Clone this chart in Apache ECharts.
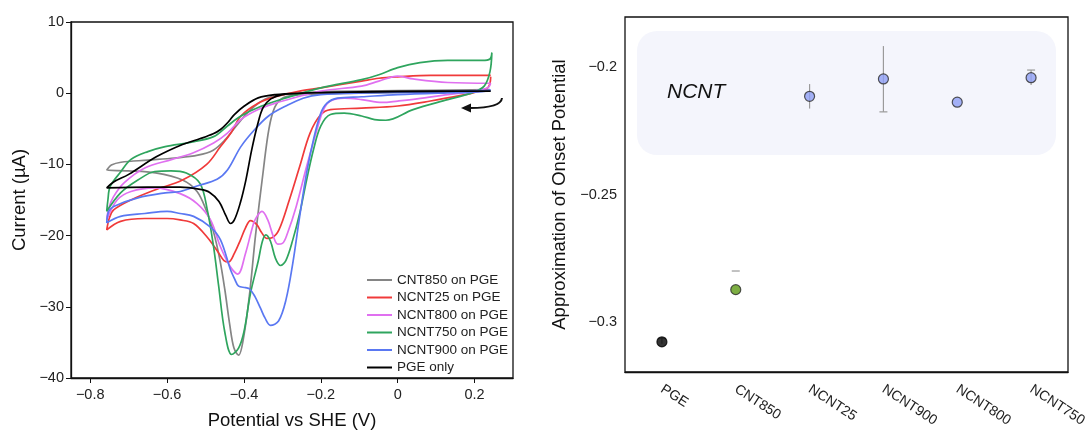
<!DOCTYPE html>
<html>
<head>
<meta charset="utf-8">
<script src="https://cdn.jsdelivr.net/npm/echarts@6/dist/echarts.min.js"></script>
<style>
  html, body { margin: 0; background: #fff; }
  #chart { width: 1085px; height: 432px; }
</style>
</head>
<body>
<div id="chart"></div>
<script>
// --- CV curves: [potential V, current uA], cathodic sweep then anodic sweep
const cnt850 = [
  [0.24, 0.3], [0.1, 0.15], [0, 0.1], [-0.1, 0], [-0.2, -0.1], [-0.27, -0.3], [-0.3, -0.7],
  [-0.32, -2], [-0.335, -5], [-0.35, -11], [-0.37, -20], [-0.385, -28], [-0.4, -34],
  [-0.414, -36.8], [-0.426, -35.8], [-0.437, -32.5], [-0.45, -27.5], [-0.463, -23.3],
  [-0.48, -19.3], [-0.497, -16.6], [-0.522, -13.8], [-0.56, -12.2], [-0.63, -11.2],
  [-0.7, -10.9], [-0.757, -10.8],
  [-0.745, -10.1], [-0.72, -9.7], [-0.65, -9.4], [-0.58, -9.1], [-0.52, -8.7], [-0.48, -8],
  [-0.45, -6.6], [-0.42, -4.6], [-0.39, -2.7], [-0.36, -1.3], [-0.33, -0.5], [-0.28, -0.1],
  [-0.2, 0.2], [0, 0.35], [0.24, 0.5]
];
const ncnt25 = [
  [0.242, 2.3], [0.235, 0.8], [0.2, 0.1], [0.175, -0.2], [0.085, -1.1], [0, -1.8],
  [-0.094, -2.1], [-0.175, -2.3], [-0.2, -3.0], [-0.228, -5.6], [-0.255, -10.3],
  [-0.282, -15], [-0.309, -19.2], [-0.327, -20.3], [-0.34, -20.4], [-0.355, -19.5],
  [-0.366, -18.5], [-0.383, -17.9], [-0.396, -18.9], [-0.409, -20.6], [-0.425, -22.5],
  [-0.44, -23.7], [-0.452, -23.5], [-0.465, -22.5], [-0.496, -20.2], [-0.531, -18.3],
  [-0.566, -17.8], [-0.6, -17.6], [-0.658, -17.6], [-0.721, -18], [-0.757, -19.2],
  [-0.75, -17.5], [-0.739, -16.4], [-0.694, -15], [-0.632, -13.6], [-0.56, -12.2],
  [-0.497, -10], [-0.461, -7.5], [-0.434, -5.6], [-0.408, -3.2], [-0.363, -1.4],
  [-0.318, -0.5], [-0.255, 0.3], [-0.2, 0.75], [-0.094, 1.7], [-0.049, 2.1], [0, 2.3],
  [0.085, 2.5], [0.242, 2.5]
];
const ncnt800 = [
  [0.242, 1.4], [0.235, 0.8], [0.2, 0.3], [0.13, -0.2], [0.05, -0.8], [0, -1.1],
  [-0.04, -1.3], [-0.094, -0.9], [-0.139, -0.7], [-0.175, -1.1], [-0.193, -2.3],
  [-0.21, -5.1], [-0.237, -10.3], [-0.264, -15.9], [-0.287, -19.7], [-0.3, -21.1],
  [-0.312, -21.2], [-0.323, -20.2], [-0.338, -17.8], [-0.353, -16.6], [-0.365, -17.2],
  [-0.375, -18.3], [-0.396, -22.5], [-0.416, -25.4], [-0.435, -24.4], [-0.461, -21.6],
  [-0.487, -17.8], [-0.522, -15.5], [-0.566, -14.1], [-0.632, -13.3], [-0.694, -13.8],
  [-0.73, -15], [-0.757, -17.8],
  [-0.752, -16.2], [-0.74, -14.6], [-0.712, -12.6], [-0.658, -10.5], [-0.587, -9.3],
  [-0.533, -8.4], [-0.479, -7], [-0.443, -5.6], [-0.408, -3.7], [-0.363, -2.3],
  [-0.318, -1.4], [-0.273, -0.7], [-0.2, 0.3], [-0.094, 1], [-0.049, 1.7], [0, 2.4],
  [0.04, 2], [0.13, 1.5], [0.242, 1.4]
];
const ncnt750 = [
  [0.245, 5.7], [0.24, 3], [0.225, 1], [0.193, 0.05], [0.13, -0.9], [0.04, -2.3],
  [-0.031, -3.8], [-0.06, -3.7], [-0.094, -3.2], [-0.139, -2.8], [-0.175, -3.0],
  [-0.2, -4.6], [-0.219, -7.9], [-0.237, -12.2], [-0.255, -16.9], [-0.273, -20.6],
  [-0.291, -23.5], [-0.305, -24.2], [-0.318, -23.2], [-0.331, -20.8], [-0.343, -19.9],
  [-0.352, -20.8], [-0.363, -23.6], [-0.383, -28.1], [-0.4, -33.5], [-0.414, -35.8],
  [-0.432, -36.7], [-0.45, -33.5], [-0.466, -27], [-0.479, -21.6], [-0.495, -16.5],
  [-0.514, -12.7], [-0.55, -11.2], [-0.59, -10.9], [-0.632, -11], [-0.676, -12.2],
  [-0.721, -14], [-0.757, -16.6],
  [-0.754, -15], [-0.748, -13.1], [-0.72, -11], [-0.694, -9.3], [-0.65, -8.2],
  [-0.605, -7.5], [-0.54, -6.9], [-0.479, -6.1], [-0.443, -4.6], [-0.408, -3.2],
  [-0.354, -1.8], [-0.291, -0.66], [-0.2, 0.75], [-0.094, 1.9], [-0.049, 2.6], [0, 3.6],
  [0.058, 4.3], [0.13, 4.6], [0.22, 4.6], [0.24, 4.8], [0.245, 5.7]
];
const ncnt900 = [
  [0.242, 0.4], [0.2, 0.15], [0.13, 0.05], [0, -0.2], [-0.094, -0.5], [-0.157, -0.7],
  [-0.184, -1.4], [-0.2, -2.8], [-0.219, -6.5], [-0.237, -11.2], [-0.255, -17.3],
  [-0.273, -23.9], [-0.291, -29.1], [-0.31, -32], [-0.331, -32.6], [-0.345, -31.6],
  [-0.357, -30.2], [-0.372, -28.5], [-0.385, -27.5], [-0.396, -27.3], [-0.414, -27.1],
  [-0.425, -26], [-0.435, -24.8], [-0.461, -20.6], [-0.487, -18.8], [-0.531, -17.3],
  [-0.566, -16.9], [-0.6, -16.6], [-0.658, -16.9], [-0.721, -17.3], [-0.757, -18.2],
  [-0.752, -16.6], [-0.739, -15.9], [-0.676, -14.7], [-0.605, -14], [-0.566, -13.8],
  [-0.52, -13], [-0.47, -12.1], [-0.443, -10.8], [-0.408, -7.5], [-0.372, -5.1],
  [-0.336, -3.2], [-0.291, -1.8], [-0.246, -0.7], [-0.2, -0.2], [-0.094, 0.05], [0, 0.1],
  [0.13, 0.25], [0.242, 0.4]
];
const pgeOnly = [
  [0.242, 0.3], [0.1, 0.25], [-0.1, 0.15], [-0.25, 0], [-0.3, -0.2], [-0.33, -0.8],
  [-0.35, -2], [-0.365, -4.5], [-0.38, -8], [-0.395, -12.2], [-0.41, -15.5],
  [-0.425, -17.8], [-0.435, -18.3], [-0.447, -17.2], [-0.465, -15.2], [-0.49, -13.9],
  [-0.514, -13.5], [-0.566, -13.2], [-0.65, -13.2], [-0.757, -13.3],
  [-0.74, -12.5], [-0.7, -11.4], [-0.627, -8.9], [-0.56, -7.2], [-0.515, -6.4],
  [-0.48, -5.7], [-0.461, -5.1], [-0.44, -4], [-0.425, -3], [-0.399, -1.8],
  [-0.363, -0.66], [-0.318, -0.2], [-0.25, 0], [-0.1, 0.2], [0.1, 0.28], [0.242, 0.3]
];

const cvNames = ['CNT850 on PGE', 'NCNT25 on PGE', 'NCNT800 on PGE', 'NCNT750 on PGE', 'NCNT900 on PGE', 'PGE only'];
const cvData = [cnt850, ncnt25, ncnt800, ncnt750, ncnt900, pgeOnly];
const cvColors = ['#858585', '#f03a3a', '#e070f0', '#2fa55e', '#5a78f2', '#000000'];
const xTicks = [-0.8, -0.6, -0.4, -0.2, 0, 0.2];

// --- onset potentials
const samples = ['PGE', 'CNT850', 'NCNT25', 'NCNT900', 'NCNT800', 'NCNT750'];
const onset = [-0.3078, -0.2873, -0.2115, -0.2047, -0.2138, -0.2042];
const errLow = [-0.3085, -0.28, -0.2163, -0.2176, -0.2138, -0.2071];
const errHigh = [-0.3063, -0.28, -0.2067, -0.1918, -0.2138, -0.2012];
const capEnd = ['high', 'high', 'none', 'low', 'none', 'high'];
const pointColors = ['#000000', '#5c9a14', '#8e9ff4', '#8e9ff4', '#8e9ff4', '#8e9ff4'];
const onsetTicks = [-0.3, -0.25, -0.2];

const font = '"Liberation Sans", Arial, sans-serif';
const minus = (v) => String(v).replace('-', '\u2212');
const tickLabel = { color: '#222', fontSize: 14.5, fontFamily: font };
const axisName = { color: '#111', fontSize: 18.5, fontFamily: font };
const blackLine = { onZero: false, lineStyle: { color: '#111', width: 1.3 } };

const chart = echarts.init(document.getElementById('chart'));

chart.setOption({
  animation: false,
  backgroundColor: '#fff',
  grid: [
    { left: 71, top: 22, width: 442, height: 356, outerBoundsMode: 'none', show: true, borderColor: '#111', borderWidth: 1.3 },
    { left: 625, top: 17, width: 443, height: 355, outerBoundsMode: 'none', show: true, borderColor: '#111', borderWidth: 1.3 }
  ],
  legend: {
    orient: 'vertical',
    left: 362,
    top: 268,
    icon: 'rect',
    itemWidth: 25,
    itemHeight: 2,
    itemGap: 3.5,
    data: cvNames,
    textStyle: { color: '#222', fontSize: 13.5, lineHeight: 13, fontFamily: font }
  },
  xAxis: [
    {
      type: 'value', gridIndex: 0, min: -0.85, max: 0.3,
      name: 'Potential vs SHE (V)', nameLocation: 'middle', nameGap: 33, nameTextStyle: axisName,
      axisLine: blackLine,
      axisTick: { customValues: xTicks, length: 5, lineStyle: { color: '#111' } },
      axisLabel: { ...tickLabel, customValues: xTicks, margin: 9, formatter: minus },
      splitLine: { show: false }
    },
    {
      type: 'category', gridIndex: 1, data: samples,
      axisLine: blackLine,
      axisTick: { alignWithLabel: true, length: 6, lineStyle: { color: '#111' } },
      axisLabel: { ...tickLabel, fontSize: 14, rotate: -33, margin: 16 },
      splitLine: { show: false }
    }
  ],
  yAxis: [
    {
      type: 'value', gridIndex: 0, min: -40, max: 10, interval: 10,
      name: 'Current (\u00b5A)', nameLocation: 'middle', nameGap: 42, nameTextStyle: axisName,
      axisLine: blackLine,
      axisTick: { length: 5, lineStyle: { color: '#111' } },
      axisLabel: { ...tickLabel, margin: 7, formatter: minus },
      splitLine: { show: false }
    },
    {
      type: 'value', gridIndex: 1, min: -0.3196, max: -0.1804,
      name: 'Approximation of Onset Potential', nameLocation: 'middle', nameGap: 56, nameTextStyle: axisName,
      axisLine: blackLine,
      axisTick: { customValues: onsetTicks, length: 6, lineStyle: { color: '#111' } },
      axisLabel: { ...tickLabel, customValues: onsetTicks, margin: 8, formatter: minus },
      splitLine: { show: false }
    }
  ],
  graphic: [
    {
      type: 'rect', z: 0,
      shape: { x: 637, y: 31, width: 419, height: 124, r: 20 },
      style: { fill: '#f4f5fc' }
    },
    {
      type: 'text', z: 1, x: 667, y: 92,
      style: { text: 'NCNT', font: 'italic 21px ' + font, fill: '#111', verticalAlign: 'middle' }
    },
    {
      type: 'bezierCurve', z: 5,
      shape: { x1: 502, y1: 98, cpx1: 501, cpy1: 108, x2: 470, y2: 108 },
      style: { stroke: '#111', lineWidth: 2, fill: null }
    },
    {
      type: 'polygon', z: 5,
      shape: { points: [[461, 108], [471, 103.5], [471, 112.5]] },
      style: { fill: '#111' }
    }
  ],
  series: [
    ...cvData.map((d, i) => ({
      name: cvNames[i],
      type: 'line',
      xAxisIndex: 0,
      yAxisIndex: 0,
      data: d,
      smooth: 0.35,
      symbol: 'none',
      color: cvColors[i],
      lineStyle: { color: cvColors[i], width: 1.7 }
    })),
    {
      type: 'custom',
      xAxisIndex: 1,
      yAxisIndex: 1,
      z: 3,
      data: samples.map((s, i) => [i, errLow[i], errHigh[i]]),
      renderItem: (params, api) => {
        const lo = api.coord([api.value(0), api.value(1)]);
        const hi = api.coord([api.value(0), api.value(2)]);
        const style = { stroke: '#9a9a9a', lineWidth: 1.2 };
        const children = [{ type: 'line', shape: { x1: lo[0], y1: lo[1], x2: hi[0], y2: hi[1] }, style }];
        const end = capEnd[params.dataIndex];
        if (end === 'low') children.push({ type: 'line', shape: { x1: lo[0] - 4, y1: lo[1], x2: lo[0] + 4, y2: lo[1] }, style });
        if (end === 'high') children.push({ type: 'line', shape: { x1: hi[0] - 4, y1: hi[1], x2: hi[0] + 4, y2: hi[1] }, style });
        return { type: 'group', children };
      }
    },
    {
      type: 'scatter',
      xAxisIndex: 1,
      yAxisIndex: 1,
      z: 4,
      symbolSize: 10,
      data: onset.map((v, i) => ({
        value: [i, v],
        itemStyle: { color: pointColors[i], borderColor: i === 0 ? '#000' : '#2a2a2a', borderWidth: 1.2 }
      }))
    }
  ]
});
</script>
</body>
</html>
